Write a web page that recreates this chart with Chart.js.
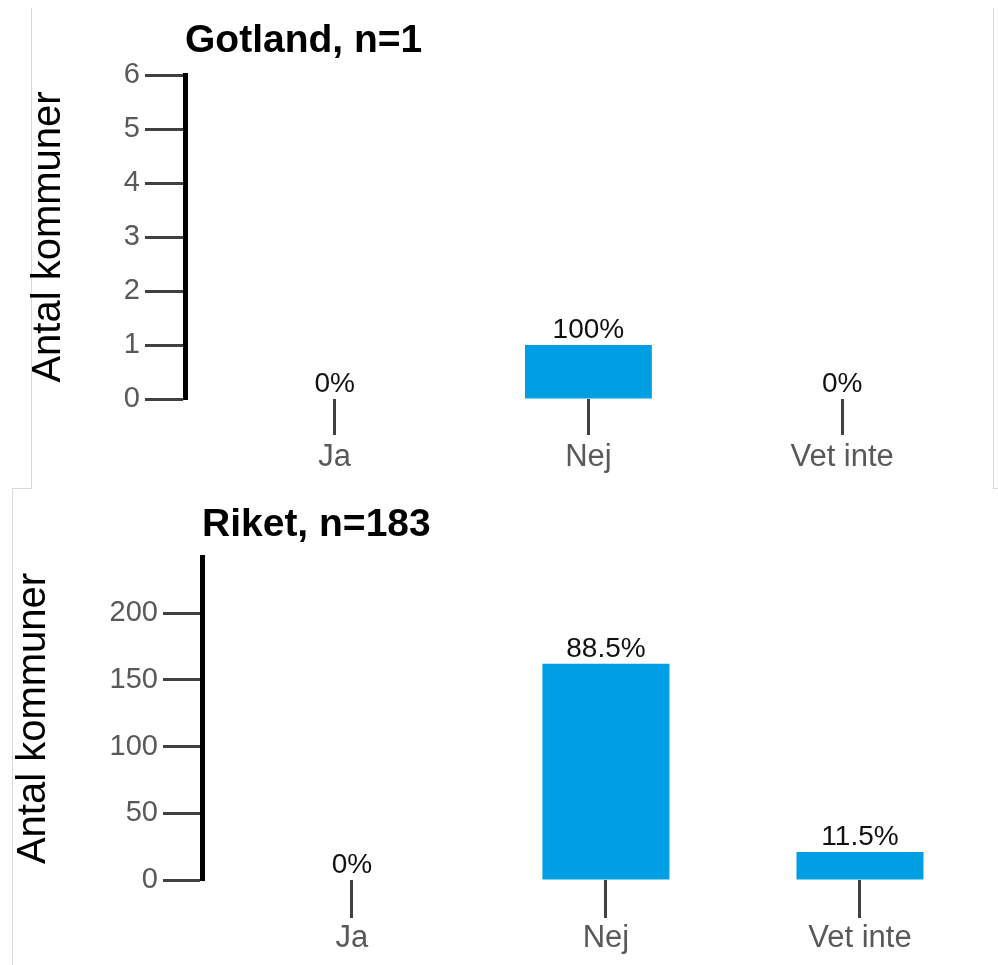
<!DOCTYPE html>
<html lang="sv">
<head>
<meta charset="UTF-8">
<title>Antal kommuner</title>
<script src="https://cdn.jsdelivr.net/npm/chart.js"></script>
<style>
  body { margin: 0; background: #fff; }
  .page { position: relative; width: 998px; height: 965px; overflow: hidden; }
  .panel-bottom { position: absolute; left: 12px; top: 488px; width: 1000px; height: 500px; border-top: 1px solid #d9d9d9; border-left: 1px solid #d9d9d9; }
  .panel-top { position: absolute; left: 31px; top: 8px; width: 961px; height: 481px; background: #fff; border-left: 1px solid #d9d9d9; border-right: 1px solid #d9d9d9; }
  .chart { position: absolute; left: 0; width: 998px; }
  #topWrap { top: 0; height: 488px; }
  #bottomWrap { top: 488px; height: 477px; }
</style>
</head>
<body>
<div class="page">
  <div class="panel-bottom"></div>
  <div class="panel-top"></div>
  <div class="chart" id="topWrap"><canvas id="gotlandChart"></canvas></div>
  <div class="chart" id="bottomWrap"><canvas id="riketChart"></canvas></div>
</div>

<script>
    const FONT = '"Liberation Sans", Arial, sans-serif';

    const categories = ['Ja', 'Nej', 'Vet inte'];

    const gotlandValues = [0, 1, 0];
    const gotlandPct = ['0%', '100%', '0%'];
    const gotlandTicks = [0, 1, 2, 3, 4, 5, 6];

    const riketValues = [0, 162, 21];
    const riketPct = ['0%', '88.5%', '11.5%'];
    const riketTicks = [0, 50, 100, 150, 200];

    // title + percentage labels above the bars
    const labelPlugin = {
        id: 'barLabels',
        afterDatasetsDraw(chart, args, opts) {
            const ctx = chart.ctx;
            ctx.save();
            ctx.fillStyle = '#111';
            ctx.font = '28px ' + FONT;
            ctx.textAlign = 'center';
            ctx.textBaseline = 'alphabetic';
            chart.getDatasetMeta(0).data.forEach((bar, i) => {
                ctx.fillText(opts.pct[i], bar.x, bar.y - 7);
            });
            ctx.fillStyle = '#000';
            ctx.font = 'bold 39px ' + FONT;
            ctx.textAlign = 'left';
            ctx.fillText(opts.title, chart.chartArea.left, opts.titleY);
            ctx.restore();
        }
    };

    function drawChart(id, cfg) {
        return new Chart(document.getElementById(id), {
            type: 'bar',
            data: {
                datasets: [{
                    data: categories.map((c, i) => ({ x: i, y: cfg.values[i] })),
                    backgroundColor: '#009fe3',
                    barPercentage: 0.5,
                    categoryPercentage: 1
                }]
            },
            plugins: [labelPlugin],
            options: {
                responsive: true,
                maintainAspectRatio: false,
                animation: false,
                layout: { padding: { top: cfg.top, right: cfg.right, left: 0, bottom: 0 } },
                plugins: {
                    legend: { display: false },
                    tooltip: { enabled: false },
                    barLabels: { pct: cfg.pct, title: cfg.title, titleY: cfg.titleY }
                },
                scales: {
                    x: {
                        type: 'linear',
                        min: -0.59,
                        max: 2.5,
                        offset: false,
                        afterBuildTicks: a => { a.ticks = categories.map((c, i) => ({ value: i })); },
                        afterFit: a => { a.height = cfg.xHeight; },
                        border: { display: false },
                        grid: { offset: false, drawOnChartArea: false, drawTicks: true, tickLength: cfg.xTick, tickWidth: 3, tickColor: '#404040' },
                        ticks: { callback: v => categories[v], font: { size: 31, family: FONT }, color: '#595959', padding: cfg.xPad, maxRotation: 0, autoSkip: false }
                    },
                    y: {
                        min: 0,
                        max: cfg.max,
                        afterBuildTicks: a => { a.ticks = cfg.ticks.map(v => ({ value: v })); },
                        afterFit: a => { a.width = cfg.yWidth; },
                        border: { display: true, color: '#000', width: 5 },
                        grid: { drawOnChartArea: false, tickLength: cfg.yTick, tickWidth: 3, tickColor: '#404040' },
                        ticks: { font: { size: 29, family: FONT }, color: '#595959', padding: 5 },
                        title: { display: true, text: 'Antal kommuner', font: { size: 40, family: FONT }, color: '#000', padding: { top: cfg.titlePad, bottom: 0 } }
                    }
                }
            }
        });
    }

    drawChart('gotlandChart', {
        values: gotlandValues, pct: gotlandPct, ticks: gotlandTicks, max: 6,
        title: 'Gotland, n=1', titleY: 52,
        top: 75, right: 29, yWidth: 185, xHeight: 89, xTick: 36, yTick: 40, titlePad: 25, xPad: 4
    });

    drawChart('riketChart', {
        values: riketValues, pct: riketPct, ticks: riketTicks, max: 242,
        title: 'Riket, n=183', titleY: 48,
        top: 69, right: 11, yWidth: 202, xHeight: 85, xTick: 38, yTick: 39, titlePad: 10, xPad: 2
    });
</script>
</body>
</html>
